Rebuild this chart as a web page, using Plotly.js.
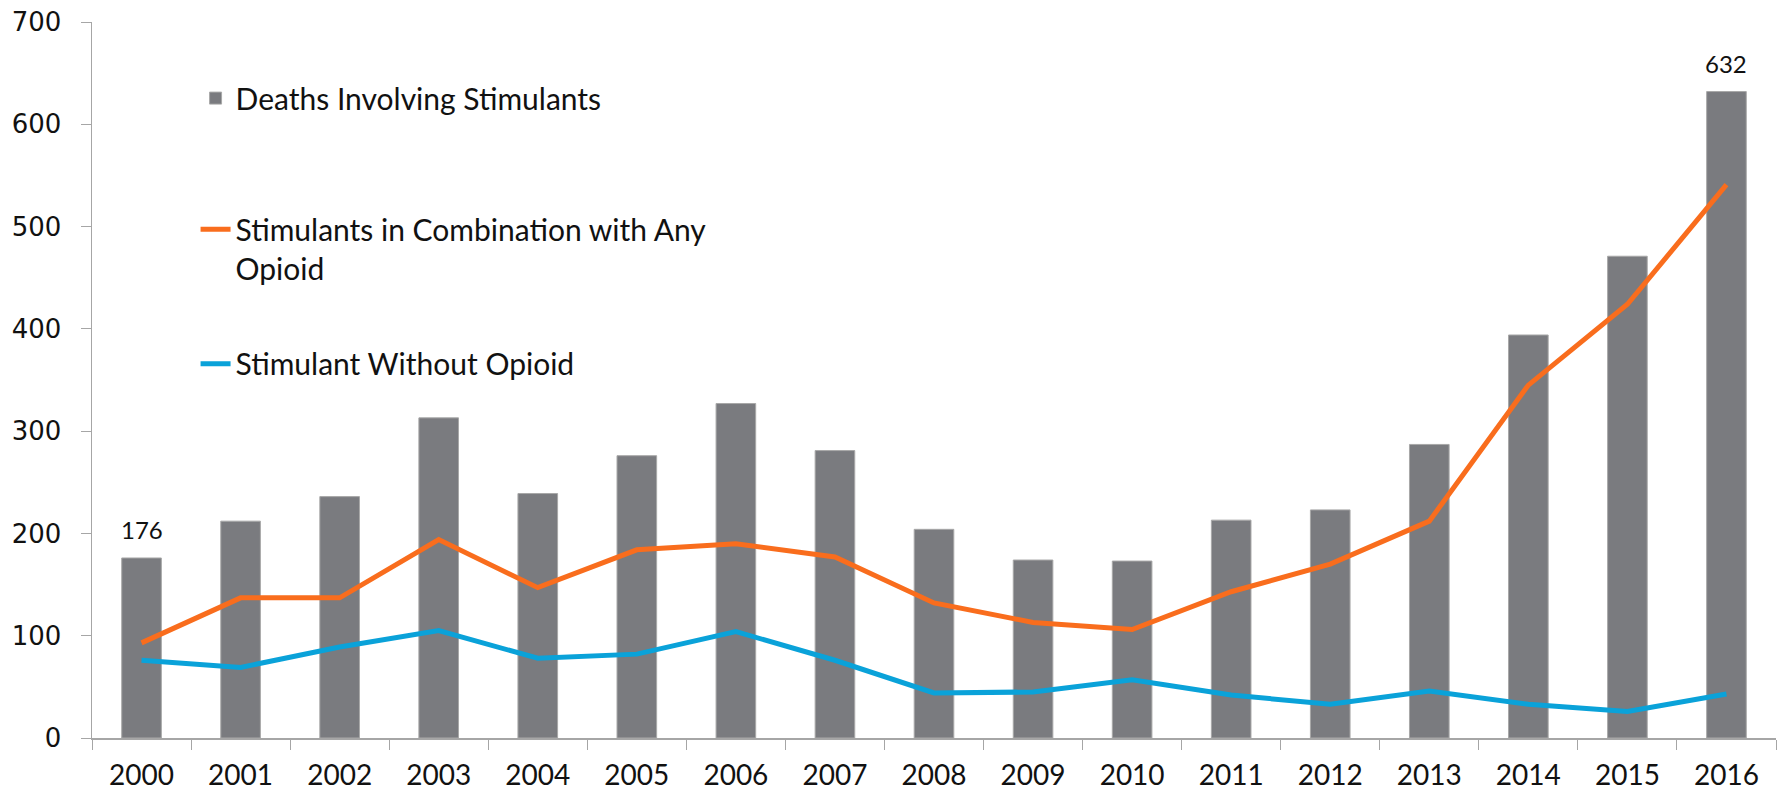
<!DOCTYPE html>
<html>
<head>
<meta charset="utf-8">
<script src="https://cdn.plot.ly/plotly-3.0.1.min.js"></script>
<style>html,body{margin:0;padding:0;background:#fff;}#chart{width:1779px;height:795px;}</style>
</head>
<body>
<div id="chart"></div>
<script>
const years = ['2000','2001','2002','2003','2004','2005','2006','2007','2008','2009','2010','2011','2012','2013','2014','2015','2016'];
const stimulantDeaths = [176, 212, 236, 313, 239, 276, 327, 281, 204, 174, 173, 213, 223, 287, 394, 471, 632];
const withOpioid = [93, 137, 137, 194, 147, 184, 190, 177, 132, 113, 106, 143, 170, 212, 345, 424, 541];
const withoutOpioid = [76, 69, 89, 105, 78, 82, 104, 76, 44, 45, 57, 42, 33, 46, 33, 26, 43];
const seriesNames = ['Deaths Involving Stimulants', 'Stimulants in Combination with Any<br>Opioid', 'Stimulant Without Opioid'];
const yTicks = [0, 100, 200, 300, 400, 500, 600, 700];
const labelledIdx = [0, stimulantDeaths.length - 1];

const legendFont = {family: 'Lato, "Open Sans", sans-serif', size: 30, color: '#111'};

const traces = [
  {type: 'bar', x: years, y: stimulantDeaths, name: seriesNames[0], legend: 'legend',
   marker: {color: '#7a7b7f', line: {color: '#a8a8a8', width: 1}}},
  {type: 'scatter', mode: 'lines', x: years, y: withOpioid, name: seriesNames[1], legend: 'legend2',
   line: {color: '#f96d1d', width: 5}},
  {type: 'scatter', mode: 'lines', x: years, y: withoutOpioid, name: seriesNames[2], legend: 'legend3',
   line: {color: '#0aa2d9', width: 5}}
];

// category index position i == category years[i]
const annotations = labelledIdx.map(i => ({
  x: i, y: stimulantDeaths[i], xref: 'x', yref: 'y',
  text: String(stimulantDeaths[i]), showarrow: false,
  xanchor: 'center', yanchor: 'bottom', yshift: 12,
  font: {family: 'Lato, "Open Sans", sans-serif', size: 24, color: '#111'}
}));

const legendBase = {bgcolor: 'rgba(0,0,0,0)', borderwidth: 0, font: legendFont, xanchor: 'left', yanchor: 'top', valign: 'top', x: 0.0615};

const layout = {
  width: 1779, height: 795,
  margin: {l: 92, r: 3, t: 22, b: 57},
  paper_bgcolor: '#fff', plot_bgcolor: '#fff',
  bargap: 0.6,
  showlegend: true,
  legend: Object.assign({}, legendBase, {y: 0.930}),
  legend2: Object.assign({}, legendBase, {y: 0.747}),
  legend3: Object.assign({}, legendBase, {y: 0.559}),
  annotations: annotations,
  xaxis: {
    type: 'category', categoryarray: years, categoryorder: 'array',
    range: [-0.5, years.length - 0.5],
    showgrid: false, zeroline: false,
    showline: true, linecolor: '#a6a6a6', linewidth: 1.5,
    ticks: 'outside', tickson: 'boundaries', ticklen: 10, tickcolor: '#a6a6a6', tickwidth: 1,
    tickfont: {family: 'Lato, "Open Sans", sans-serif', size: 28, color: '#111'},
    ticklabelstandoff: 12
  },
  yaxis: {
    range: [0, 700], tickvals: yTicks, showgrid: false, zeroline: false,
    showline: true, linecolor: '#a6a6a6', linewidth: 1.5,
    ticks: 'outside', ticklen: 10, tickcolor: '#a6a6a6', tickwidth: 1,
    tickfont: {family: '"DejaVu Sans", sans-serif', size: 26, color: '#111'},
    ticklabelstandoff: 14
  }
};

Plotly.newPlot('chart', traces, layout, {displayModeBar: false, staticPlot: true});
</script>
</body>
</html>
